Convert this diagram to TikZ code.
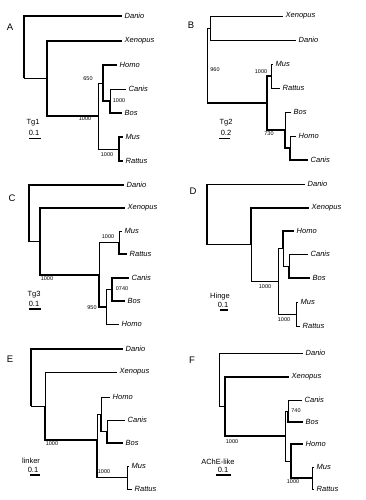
\documentclass[tikz,border=0pt]{standalone}
\usepackage{fontspec}
\setmainfont{Liberation Sans}

\begin{document}
\begin{tikzpicture}[x=1pt, y=-1pt,
        taxon/.style={anchor=west, inner xsep=2.5pt, inner ysep=1pt, font=\fontsize{7.5}{8}\selectfont\itshape},
        boot/.style={inner sep=0.5pt, font=\fontsize{5.5}{6}\selectfont},
        gene/.style={inner sep=0.5pt, font=\fontsize{7.5}{8}\selectfont},
        panel/.style={inner sep=0.5pt, font=\fontsize{9.5}{10}\selectfont},
        thn/.style={line width=0.8pt},
        thk/.style={line width=1.8pt}]
        \useasboundingbox (0,0) rectangle (366,500);

        \node[panel] (a-lbl) at (10,27) {A};
        \node[taxon] (a-danio) at (122,16) {Danio};
        \node[taxon] (a-xenopus) at (122,41) {Xenopus};
        \node[taxon] (a-homo) at (117,65) {Homo};
        \node[taxon] (a-canis) at (126,89) {Canis};
        \node[taxon] (a-bos) at (122,113) {Bos};
        \node[taxon] (a-mus) at (123,137) {Mus};
        \node[taxon] (a-rattus) at (123,161) {Rattus};
        \coordinate (a-r) at (24,78.5);
        \coordinate (a-x) at (47,78.5);
        \coordinate (a-m) at (98,116);
        \coordinate (a-p) at (103,83);
        \coordinate (a-cb) at (110,101);
        \coordinate (a-mr) at (119,149);
        \draw[thk] (a-r) |- (a-danio.west) (a-x) |- (a-xenopus.west) (a-x) |- (a-m)
            (a-p) |- (a-homo.west) (a-p) |- (a-cb) (a-cb) |- (a-bos.west)
            (a-mr) |- (a-mus.west) (a-mr) |- (a-rattus.west);
        \draw[thn] (a-r) -- (a-x) (a-m) |- (a-p) (a-cb) |- (a-canis.west) (a-m) |- (a-mr);
        \node[boot] (a-b1) at (88,79) {650};
        \node[boot] (a-b2) at (119,101) {1000};
        \node[boot] (a-b3) at (85,119) {1000};
        \node[boot] (a-b4) at (107,155) {1000};
        \node[gene] (a-gene) at (33,123) {Tg1};
        \node[gene] (a-scale) at (34,133) {0.1};
        \draw[thk] (29,138.5) -- (41,138.5);

        \node[panel] (b-lbl) at (191,25) {B};
        \node[taxon] (b-xenopus) at (283,16) {Xenopus};
        \node[taxon] (b-danio) at (296,40) {Danio};
        \node[taxon] (b-mus) at (273,64) {Mus};
        \node[taxon] (b-rattus) at (280,88) {Rattus};
        \node[taxon] (b-bos) at (291,112) {Bos};
        \node[taxon] (b-homo) at (296,136) {Homo};
        \node[taxon] (b-canis) at (308,160) {Canis};
        \coordinate (b-r) at (207,103);
        \coordinate (b-xd) at (210,28.5);
        \coordinate (b-mam) at (267,103);
        \coordinate (b-mr) at (271,76);
        \coordinate (b-bhc) at (285,130);
        \coordinate (b-hc) at (290,148);
        \draw[thn] (b-r) |- (b-xd) (b-xd) |- (b-xenopus.west) (b-xd) |- (b-danio.west)
            (b-mr) |- (b-mus.west) (b-mr) |- (b-rattus.west) (b-bhc) |- (b-bos.west)
            (b-hc) |- (b-homo.west);
        \draw[thk] (b-r) -- (b-mam) (b-mam) |- (b-mr) (b-mam) |- (b-bhc)
            (b-bhc) |- (b-hc) (b-hc) |- (b-canis.west);
        \node[boot] (b-b1) at (215,70) {960};
        \node[boot] (b-b2) at (261,72) {1000};
        \node[boot] (b-b3) at (269,134) {730};
        \node[gene] (b-gene) at (226,123) {Tg2};
        \node[gene] (b-scale) at (226,133) {0.2};
        \draw[thk] (219,138.5) -- (230,138.5);

        \node[panel] (c-lbl) at (12,198) {C};
        \node[taxon] (c-danio) at (124,185) {Danio};
        \node[taxon] (c-xenopus) at (125,208) {Xenopus};
        \node[taxon] (c-mus) at (122,231) {Mus};
        \node[taxon] (c-rattus) at (127,254) {Rattus};
        \node[taxon] (c-canis) at (129,278) {Canis};
        \node[taxon] (c-bos) at (125,301) {Bos};
        \node[taxon] (c-homo) at (119,324) {Homo};
        \coordinate (c-r) at (29,241.5);
        \coordinate (c-x) at (40,241.5);
        \coordinate (c-n1) at (99,275);
        \coordinate (c-mr) at (119,242.5);
        \coordinate (c-n2) at (106,307);
        \coordinate (c-cb) at (112,289.5);
        \draw[thk] (c-r) |- (c-danio.west) (c-r) -- (c-x) (c-x) |- (c-xenopus.west)
            (c-x) |- (c-n1) (c-n1) |- (c-n2) (c-mr) |- (c-rattus.west)
            (c-cb) |- (c-canis.west) (c-cb) |- (c-bos.west);
        \draw[thn] (c-n1) |- (c-mr) (c-mr) |- (c-mus.west) (c-n2) |- (c-cb)
            (c-n2) |- (c-homo.west);
        \node[boot] (c-b1) at (108,237) {1000};
        \node[boot] (c-b2) at (122,289) {0740};
        \node[boot] (c-b3) at (92,308) {950};
        \node[boot] (c-b4) at (47,279) {1000};
        \node[gene] (c-gene) at (34,295) {Tg3};
        \node[gene] (c-scale) at (34,304) {0.1};
        \draw[thk] (29,309) -- (41,309);

        \node[panel] (d-lbl) at (193,191) {D};
        \node[taxon] (d-danio) at (305,184) {Danio};
        \node[taxon] (d-xenopus) at (309,208) {Xenopus};
        \node[taxon] (d-homo) at (294,231) {Homo};
        \node[taxon] (d-canis) at (308,254) {Canis};
        \node[taxon] (d-bos) at (310,278) {Bos};
        \node[taxon] (d-mus) at (298,302) {Mus};
        \node[taxon] (d-rattus) at (300,326) {Rattus};
        \coordinate (d-r) at (207,184);
        \coordinate (d-x) at (251,244.5);
        \coordinate (d-m) at (278,281);
        \coordinate (d-p) at (283,248.5);
        \coordinate (d-cb) at (289,266);
        \coordinate (d-mr) at (296,314);
        \draw[thn] (d-r) -- (d-danio.west) (d-x) |- (d-m) (d-m) |- (d-p) (d-p) |- (d-cb)
            (d-cb) |- (d-canis.west) (d-m) |- (d-mr) (d-mr) |- (d-mus.west)
            (d-mr) |- (d-rattus.west);
        \draw[thk] (d-r) |- (d-x) (d-x) |- (d-xenopus.west) (d-p) |- (d-homo.west)
            (d-cb) |- (d-bos.west);
        \node[boot] (d-b1) at (265,287) {1000};
        \node[boot] (d-b2) at (284,320) {1000};
        \node[gene] (d-gene) at (220,297) {Hinge};
        \node[gene] (d-scale) at (223,305) {0.1};
        \draw[thk] (220,310) -- (228,310);

        \node[panel] (e-lbl) at (10,359) {E};
        \node[taxon] (e-danio) at (123,349) {Danio};
        \node[taxon] (e-xenopus) at (117,372) {Xenopus};
        \node[taxon] (e-homo) at (110,397) {Homo};
        \node[taxon] (e-canis) at (125,420) {Canis};
        \node[taxon] (e-bos) at (123,443) {Bos};
        \node[taxon] (e-mus) at (129,466) {Mus};
        \node[taxon] (e-rattus) at (132,489) {Rattus};
        \coordinate (e-r) at (31,406);
        \coordinate (e-x) at (45,406);
        \coordinate (e-m) at (97,440);
        \coordinate (e-p) at (101,414);
        \coordinate (e-cb) at (107,431.5);
        \coordinate (e-mr) at (127,477.5);
        \draw[thk] (e-r) |- (e-danio.west) (e-x) |- (e-m) (e-p) |- (e-cb)
            (e-cb) |- (e-bos.west) (e-m) |- (e-mr);
        \draw[thn] (e-r) -- (e-x) (e-x) |- (e-xenopus.west) (e-m) |- (e-p)
            (e-p) |- (e-homo.west) (e-cb) |- (e-canis.west) (e-mr) |- (e-mus.west)
            (e-mr) |- (e-rattus.west);
        \node[boot] (e-b1) at (52,444) {1000};
        \node[boot] (e-b2) at (104,472) {1000};
        \node[gene] (e-gene) at (31,461) {linker};
        \node[gene] (e-scale) at (33,470) {0.1};
        \draw[thk] (30,475) -- (40,475);

        \node[panel] (f-lbl) at (192,360) {F};
        \node[taxon] (f-danio) at (303,353) {Danio};
        \node[taxon] (f-xenopus) at (289,377) {Xenopus};
        \node[taxon] (f-canis) at (302,400) {Canis};
        \node[taxon] (f-bos) at (303,422) {Bos};
        \node[taxon] (f-homo) at (303,444) {Homo};
        \node[taxon] (f-mus) at (314,467) {Mus};
        \node[taxon] (f-rattus) at (314,489) {Rattus};
        \coordinate (f-r) at (219,406.5);
        \coordinate (f-x) at (225,406.5);
        \coordinate (f-m) at (285,436);
        \coordinate (f-cb) at (288,411);
        \coordinate (f-h) at (291,461);
        \coordinate (f-mr) at (312,478);
        \draw[thn] (f-r) |- (f-danio.west) (f-r) -- (f-x) (f-m) |- (f-cb)
            (f-cb) |- (f-canis.west) (f-m) |- (f-h) (f-mr) |- (f-mus.west)
            (f-mr) |- (f-rattus.west);
        \draw[thk] (f-x) |- (f-xenopus.west) (f-x) |- (f-m) (f-cb) |- (f-bos.west)
            (f-h) |- (f-homo.west) (f-h) |- (f-mr);
        \node[boot] (f-b1) at (296,411) {740};
        \node[boot] (f-b2) at (232,442) {1000};
        \node[boot] (f-b3) at (293,482) {1000};
        \node[gene] (f-gene) at (218,462) {AChE-like};
        \node[gene] (f-scale) at (223,470) {0.1};
        \draw[thk] (216,475) -- (231,475);
    \end{tikzpicture}
\end{document}
